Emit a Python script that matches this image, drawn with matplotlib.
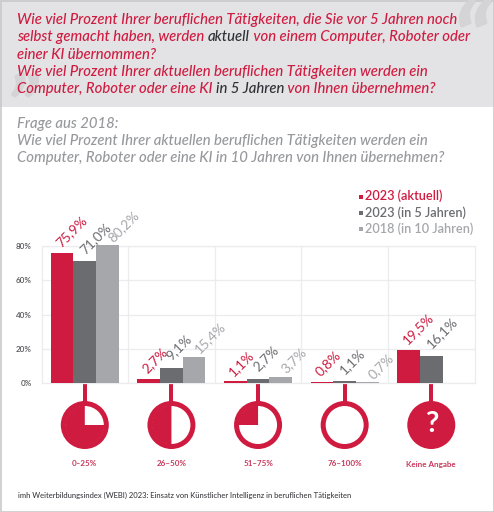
import numpy as np
import matplotlib

matplotlib.use("Agg")
import matplotlib.pyplot as plt
from matplotlib.patches import Circle, Rectangle, Wedge

plt.rcParams["font.family"] = ["Lato", "DejaVu Sans"]

W, H = 494, 512
RED = "#cf1b40"
DARK = "#6b6c70"
LIGHT = "#a6a7aa"
INK = "#2f3035"

categories = ["0–25%", "26–50%", "51–75%", "76–100%", "Keine Angabe"]
series_names = ["2023 (aktuell)", "2023 (in 5 Jahren)", "2018 (in 10 Jahren)"]
aktuell_2023 = [75.9, 2.7, 1.1, 0.8, 19.5]
in5_2023 = [71.0, 9.1, 2.7, 1.1, 16.1]
in10_2018 = [80.2, 15.4, 3.7, 0.7, None]
icon_fill = [0.75, 0.5, 0.25, 0.0, None]
y_ticks = [0, 20, 40, 60, 80]

question_lines = [
    [("Wie viel Prozent Ihrer beruflichen Tätigkeiten, die Sie vor 5 Jahren noch", RED)],
    [("selbst gemacht haben, werden ", RED), ("aktuell", INK), (" von einem Computer, Roboter oder", RED)],
    [("einer KI übernommen?", RED)],
    [("Wie viel Prozent Ihrer aktuellen beruflichen Tätigkeiten werden ein", RED)],
    [("Computer, Roboter oder eine KI ", RED), ("in 5 Jahren", INK), (" von Ihnen übernehmen?", RED)],
]
old_question = [
    "Frage aus 2018:",
    "Wie viel Prozent Ihrer aktuellen beruflichen Tätigkeiten werden ein",
    "Computer, Roboter oder eine KI in 10 Jahren von Ihnen übernehmen?",
]
footer = "imh Weiterbildungsindex (WEBI) 2023: Einsatz von Künstlicher Intelligenz in beruflichen Tätigkeiten"


def comma(value):
    return f"{value:.1f}".replace(".", ",") + "%"


def colored_line(fig, page, x, y, parts, size):
    """Write text pieces of different colours one after the other."""
    renderer = fig.canvas.get_renderer()
    for text, color in parts:
        t = page.text(x, y, text, color=color, fontsize=size, style="italic", fontweight="medium",
                      va="center", ha="left")
        # trailing and leading spaces are kept in the measured width
        x = page.transData.inverted().transform(t.get_window_extent(renderer).get_points())[1, 0]


fig = plt.figure(figsize=(W / 100, H / 100), dpi=100, facecolor="white")

# page layer in pixel units, behind the chart
page = fig.add_axes([0, 0, 1, 1], zorder=0)
page.set_xlim(0, W)
page.set_ylim(H, 0)
page.axis("off")
page.add_patch(Rectangle((0, 0), W, 107, color="#e3e3e5", lw=0))
page.add_patch(Rectangle((0.5, 0.5), W - 1, H - 1, fill=False, ec="#c9c9cb", lw=1.2))
page.text(470, 76, "“", fontsize=72, color="#d4d4d6", fontweight="black", style="italic", ha="center", va="baseline")
page.text(22, 138, "”", fontsize=62, color="#d4d4d6", fontweight="black", style="italic", ha="center", va="baseline")

for i, parts in enumerate(question_lines):
    colored_line(fig, page, 17, 20 + i * 17.3, parts, 10.75)
for i, line in enumerate(old_question):
    page.text(17, 124 + i * 17.2, line, color="#97989b", fontsize=10.75, style="italic", fontweight="medium",
              va="center")

# legend
for i, (name, color) in enumerate(zip(series_names, [RED, DARK, LIGHT])):
    y = 196 + i * 16.2
    page.add_patch(Rectangle((358.5, y - 1.5), 4, 4, color=color, lw=0))
    page.text(365, y, name, color=color, fontsize=9.2, fontweight="semibold", va="center")

page.text(18, 495, footer, color="#3c3d41", fontsize=5.5, fontweight="medium", va="center")

# bars
left, right, top, bottom = 41.5, 474.6, 245.7, 383.3
ax = fig.add_axes([left / W, 1 - bottom / H, (right - left) / W, (bottom - top) / H], zorder=1)
ax.patch.set_alpha(0)
x = np.arange(len(categories))
width = 0.262
ax.set_xlim(-0.5, len(categories) - 0.5)
ax.set_ylim(0, 80)

# value labels start near their bar, each series by its own amount
label_shifts = [(-1, 3.5), (0, 5), (4, 2)]
for offset, values, color, shift in zip([-1, 0, 1], [aktuell_2023, in5_2023, in10_2018], [RED, DARK, LIGHT],
                                        label_shifts):
    for xi, value in zip(x, values):
        if value is None:
            continue
        xb = xi + offset * width
        ax.bar(xb, value, width, color=color, clip_on=False, zorder=3)
        ax.annotate(comma(value), (xb, value), xytext=shift, textcoords="offset points", rotation=45,
                    rotation_mode="anchor", ha="left", va="baseline", color=color, fontsize=9.8,
                    annotation_clip=False, zorder=4)

ax.set_yticks(y_ticks, [f"{t}%" for t in y_ticks])
ax.set_xticks(x[:-1] + 0.5, minor=False)
ax.set_xticklabels([])
ax.grid(True, color="#ececee", lw=0.9, zorder=0)
ax.tick_params(length=0, labelsize=5.8, labelcolor="#55565a", pad=7)
for tick in ax.get_yticklabels():
    tick.set_fontweight("semibold")
for spine in ax.spines.values():
    spine.set_color("#ececee")
    spine.set_linewidth(0.9)

# percentage icons below each group
cx = np.interp(x, [-0.5, len(categories) - 0.5], [left, right])
cy, r_out, r_in = 425, 24, 19
for xc, fill, label in zip(cx, icon_fill, categories):
    page.add_patch(Rectangle((xc - 2, bottom), 4, cy - bottom - r_out + 2, color=RED, lw=0))
    page.add_patch(Circle((xc, cy), r_out, color=RED, lw=0))
    if fill is None:
        page.text(xc, cy - 1, "?", color="white", fontsize=21, fontweight="bold", ha="center", va="center")
    else:
        page.add_patch(Circle((xc, cy), r_in, color="white", lw=0))
        if fill > 0:
            # screen y runs downwards here, so angles are mirrored
            page.add_patch(Wedge((xc, cy), r_in + 0.5, 270 - fill * 360, 270, color=RED, lw=0))
    page.text(xc, 464, label, color="#c73a5c", fontsize=5.8, fontweight="bold", ha="center", va="center")

fig.savefig("out.png", dpi=100)
